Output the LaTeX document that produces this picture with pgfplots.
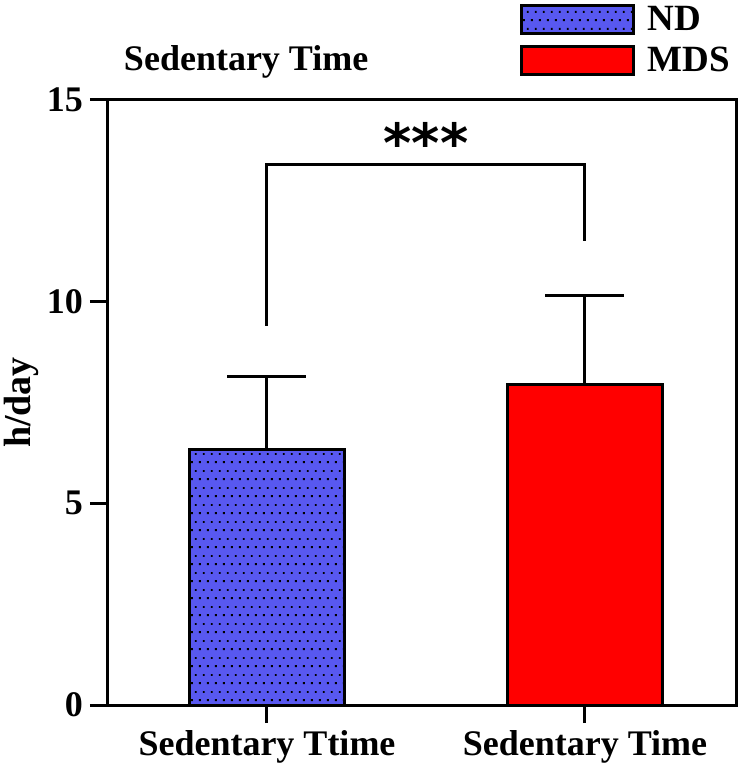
\documentclass[border=0pt]{standalone}
\usepackage{fontspec}
\setmainfont{Liberation Serif}
\newfontfamily\astfont{DejaVu Sans}
\usepackage{pgfplots}
\pgfplotsset{compat=1.18}
\usetikzlibrary{patterns.meta}
\definecolor{ndblue}{RGB}{88,88,240}
\pgfdeclarepattern{
  name=stagdots,
  type=uncolored,
  bottom left={\pgfpoint{0pt}{0pt}},
  top right={\pgfpoint{4.15pt}{8.5pt}},
  tile size={\pgfpoint{4.15pt}{8.5pt}},
  code={
    \pgfpathrectangle{\pgfpoint{0.5pt}{0.5pt}}{\pgfpoint{1pt}{1pt}}
    \pgfpathrectangle{\pgfpoint{2.575pt}{4.75pt}}{\pgfpoint{1pt}{1pt}}
    \pgfusepath{fill}
  }
}
\newcommand{\bigbf}{\fontsize{18pt}{20pt}\selectfont\bfseries}
\begin{document}
\begin{tikzpicture}
\begin{axis}[
  scale only axis, width=314pt, height=302.5pt,
  xmin=-0.5, xmax=1.475, ymin=0, ymax=15,
  ytick={0,5,10,15}, xtick={0,1},
  xticklabels={Sedentary Ttime, Sedentary Time},
  tick align=outside, xtick pos=bottom, ytick pos=left,
  major tick length=9pt,
  every tick/.style={black, line width=1.5pt},
  axis line style={line width=1.5pt},
  tick label style={font=\bigbf},
  /pgf/number format/assume math mode=true,
  every axis y label/.style={at={(rel axis cs:-0.1375,0.5)}, rotate=90, anchor=center, font=\fontsize{19pt}{21pt}\selectfont\bfseries},
  ylabel={h/day},
  clip=false,
  legend style={at={(0.656,1.163)}, anchor=north west, draw=none, fill=none,
    font=\fontsize{18.5pt}{20pt}\selectfont\bfseries, inner sep=0pt, row sep=3pt, cells={anchor=west},
    nodes={inner xsep=6pt}},
  legend image code/.code={\draw[#1, line width=1.5pt] (0pt,-7pt) rectangle (56pt,7pt);},
]
\coordinate (O) at (rel axis cs:0,0);
\addplot[ybar, bar width=0.49, bar shift=0pt, fill=ndblue, draw=black, line width=1.5pt,
  postaction={pattern=stagdots, pattern color=black},
  error bars/.cd, y dir=plus, y explicit,
  error bar style={line width=1.5pt, black, solid},
  error mark options={black, line width=1.5pt, mark size=19.75pt, rotate=90}]
  coordinates {(0,6.33) +- (0,1.82)};
\addlegendentry{ND}
\addplot[ybar, bar width=0.49, bar shift=0pt, fill=red, draw=black, line width=1.5pt,
  error bars/.cd, y dir=plus, y explicit,
  error bar style={line width=1.5pt, black, solid},
  error mark options={black, line width=1.5pt, mark size=19.75pt, rotate=90}]
  coordinates {(1,7.95) +- (0,2.2)};
\addlegendentry{MDS}
\draw[line width=1.5pt] (axis cs:0,9.4) -- (axis cs:0,13.4) -- (axis cs:1,13.4) -- (axis cs:1,11.5);
\node[font={\astfont\fontsize{27pt}{29pt}\selectfont\bfseries}, anchor=center] at (axis cs:0.5,13.95) {***};
\node[font=\bigbf, anchor=center] at (rel axis cs:0.22,1.063) {Sedentary Time};
\end{axis}
\pgfresetboundingbox
\path (O) ++(-54pt,-32.5pt) rectangle ++(372pt,385pt);
\end{tikzpicture}
\end{document}
